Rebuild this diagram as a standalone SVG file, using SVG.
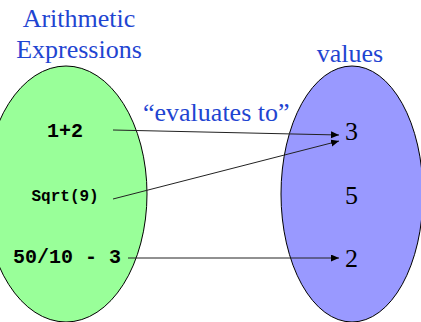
<svg xmlns="http://www.w3.org/2000/svg" width="421" height="322" viewBox="0 0 421 322">
  <style>
    .title { font-family: "Liberation Serif", "Times New Roman", serif; font-size: 26px; fill: #1F45D1; }
    .val { font-family: "Liberation Serif", "Times New Roman", serif; font-size: 26px; fill: #000; text-anchor: middle; }
    .expr { font-family: "Liberation Mono", "Courier New", monospace; font-weight: bold; fill: #000; }
    .conn { stroke: #222; stroke-width: 1; fill: none; marker-end: url(#arrow); }
  </style>
  <defs>
    <marker id="arrow" markerUnits="userSpaceOnUse" markerWidth="9" markerHeight="8" refX="8" refY="3.5" orient="auto">
      <path d="M0,0 L8,3.5 L0,7 z" fill="#000"/>
    </marker>
  </defs>
  <rect width="421" height="322" fill="#fff"/>
  <g id="expressions">
    <ellipse cx="66" cy="194" rx="81" ry="128" fill="#99FF99" stroke="#000" stroke-width="1"/>
    <text class="title" x="79" y="27" text-anchor="middle">Arithmetic</text>
    <text class="title" x="79" y="58" text-anchor="middle">Expressions</text>
    <text class="expr" x="47" y="137" font-size="20">1+2</text>
    <text class="expr" x="31.5" y="200.5" font-size="16">Sqrt(9)</text>
    <text class="expr" x="13" y="263" font-size="20">50/10 - 3</text>
  </g>
  <g id="values">
    <ellipse cx="352" cy="194" rx="71" ry="128" fill="#9999FF" stroke="#000" stroke-width="1"/>
    <text class="title" x="350" y="62" text-anchor="middle">values</text>
    <text class="val" x="351.5" y="139.5">3</text>
    <text class="val" x="351.5" y="203.5">5</text>
    <text class="val" x="351.5" y="267">2</text>
  </g>
  <g id="label">
    <text class="title" x="143" y="121">“evaluates to”</text>
  </g>
  <g id="connectors">
    <line class="conn" x1="113" y1="130" x2="339" y2="135"/>
    <line class="conn" x1="113" y1="199" x2="339" y2="141"/>
    <line class="conn" x1="128" y1="258" x2="339" y2="258"/>
  </g>
</svg>
